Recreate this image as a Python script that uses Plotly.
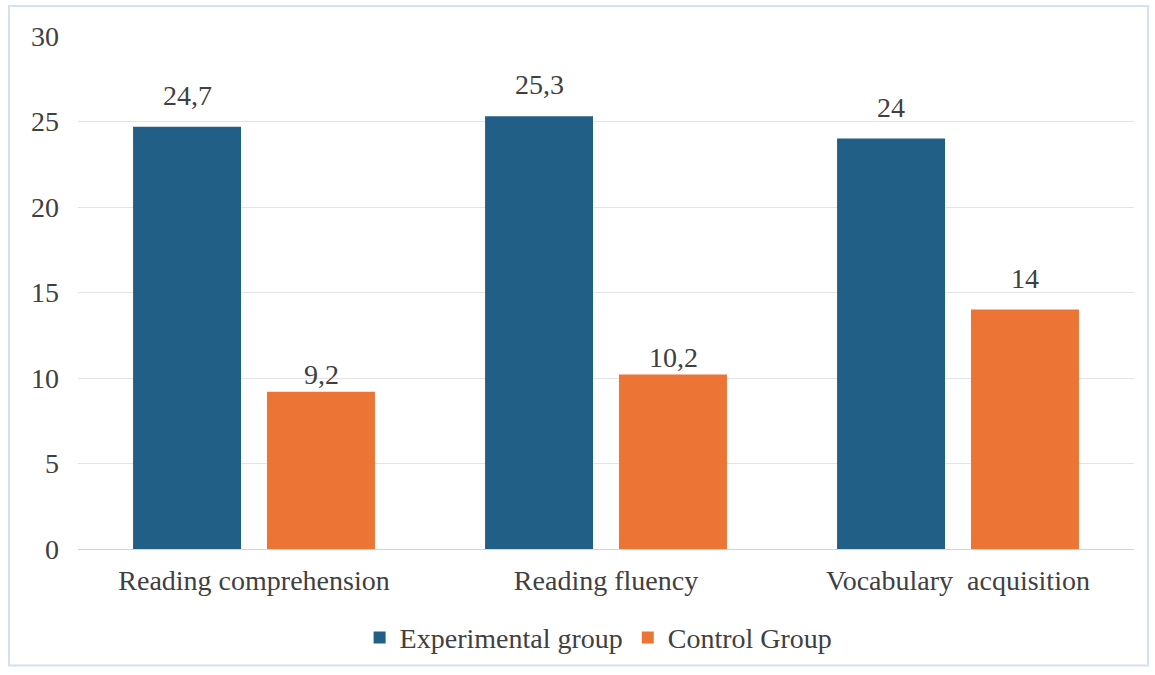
import plotly.graph_objects as go

categories = ["Reading comprehension", "Reading fluency", "Vocabulary  acquisition"]
experimental = [24.7, 25.3, 24]
control = [9.2, 10.2, 14]
y_ticks = [0, 5, 10, 15, 20, 25, 30]

FONT = "Liberation Serif, Times New Roman, serif"
TEXT_COLOR = "#404040"
FONT_SIZE = 28


def fmt(v):
    return f"{v:g}".replace(".", ",")


fig = go.Figure()
fig.add_trace(go.Bar(
    name="Experimental group", x=categories, y=experimental,
    marker=dict(color="#215f86", line=dict(width=0)),
))
fig.add_trace(go.Bar(
    name="Control Group", x=categories, y=control,
    marker=dict(color="#ec7435", line=dict(width=0)),
))

# value labels above each bar, offset sideways to sit over its bar in the group
annotations = []
for series, xshift, lifts in ((experimental, -67, (14, 14, 14)), (control, 67, (0, 0, 14))):
    for cat, val, lift in zip(categories, series, lifts):
        annotations.append(dict(
            x=cat, y=val, xref="x", yref="y", text=fmt(val), showarrow=False,
            xshift=xshift, yshift=lift, yanchor="bottom",
            font=dict(family=FONT, size=FONT_SIZE, color=TEXT_COLOR),
        ))

fig.update_layout(
    width=1155, height=675,
    margin=dict(l=78, r=21, t=36, b=124),
    paper_bgcolor="white", plot_bgcolor="white",
    barmode="group", bargap=0.239, bargroupgap=0.194,
    font=dict(family=FONT, size=FONT_SIZE, color=TEXT_COLOR),
    showlegend=True,
    legend=dict(orientation="h", x=0.493, xanchor="center", y=-0.173, yanchor="middle",
                font=dict(family=FONT, size=FONT_SIZE, color=TEXT_COLOR),
                itemwidth=30, tracegroupgap=0),
    xaxis=dict(showgrid=False, showline=True, linecolor="#d4d4d4", linewidth=1,
               ticks="", ticklabelstandoff=6,
               tickfont=dict(family=FONT, size=FONT_SIZE, color=TEXT_COLOR)),
    yaxis=dict(range=[0, 30], tickvals=y_ticks, showgrid=True, gridcolor="#e3e3e3",
               gridwidth=1, zeroline=False, showline=False, ticks="",
               ticklabelstandoff=18,
               tickfont=dict(family=FONT, size=FONT_SIZE, color=TEXT_COLOR)),
    annotations=annotations,
    shapes=[dict(type="rect", xref="paper", yref="paper",
                 x0=-0.0653, x1=1.0133, y0=-0.227, y1=1.0583,
                 line=dict(color="#d6e0ee", width=2), fillcolor="rgba(0,0,0,0)",
                 layer="below")],
)

fig.write_html("out.html")
